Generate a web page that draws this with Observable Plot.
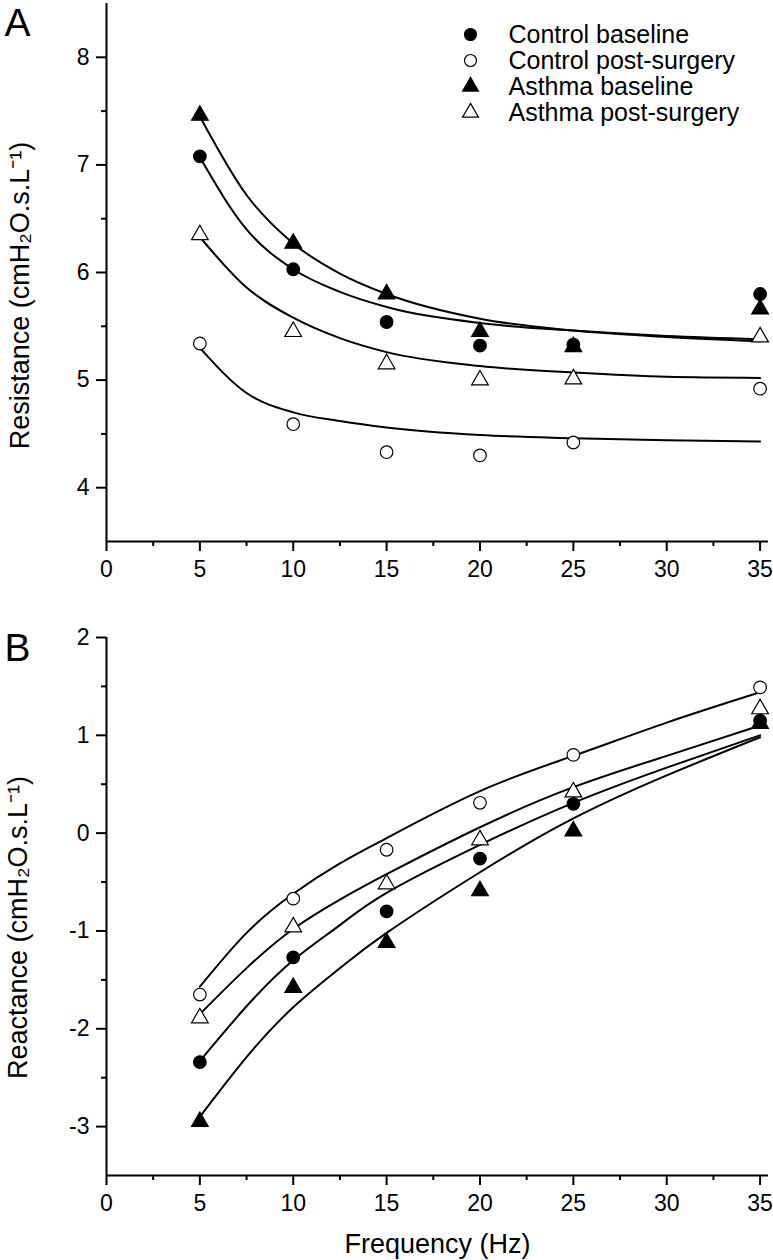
<!DOCTYPE html>
<html><head><meta charset="utf-8">
<script src="https://cdn.jsdelivr.net/npm/d3@7"></script>
<script src="https://cdn.jsdelivr.net/npm/@observablehq/plot@0.6"></script>
<style>
body{margin:0;background:#fff;}
#wrap{position:relative;width:773px;height:1260px;font-family:"Liberation Sans",Arial,sans-serif;background:#fff;}
#wrap svg{display:block;}
#legend{position:absolute;left:460px;top:0;}
</style></head><body><div id="wrap"><div id="legend"></div></div>
<script>
// ---------- data ----------
const seriesNames = ["Control baseline", "Control post-surgery", "Asthma baseline", "Asthma post-surgery"];
const freq = [5, 10, 15, 20, 25, 35];
const fitFreq = [5, 7.5, 10, 12.5, 15, 20, 25, 30, 35];

// Panel A: resistance
const resControlBase = [7.08, 6.03, 5.54, 5.32, 5.33, 5.80];
const resControlPost = [5.34, 4.59, 4.33, 4.30, 4.42, 4.92];
const resAsthmaBase  = [7.46, 6.27, 5.80, 5.45, 5.31, 5.66];
const resAsthmaPost  = [6.35, 5.45, 5.15, 5.00, 5.01, 5.40];
const resFitControlBase = [7.07, 6.40, 6.03, 5.82, 5.68, 5.53, 5.46, 5.41, 5.38];
const resFitControlPost = [5.30, 4.88, 4.70, 4.62, 4.56, 4.49, 4.46, 4.44, 4.43];
const resFitAsthmaBase  = [7.45, 6.72, 6.27, 5.99, 5.80, 5.57, 5.46, 5.40, 5.36];
const resFitAsthmaPost  = [6.33, 5.86, 5.58, 5.39, 5.26, 5.13, 5.07, 5.03, 5.02];

// Panel B: reactance
const reaControlBase = [-2.34, -1.27, -0.80, -0.26, 0.30, 1.15];
const reaControlPost = [-1.65, -0.67, -0.17, 0.31, 0.80, 1.49];
const reaAsthmaBase  = [-2.95, -1.58, -1.12, -0.59, 0.02, 1.12];
const reaAsthmaPost  = [-1.89, -0.96, -0.52, -0.07, 0.42, 1.27];
const reaFitControlBase = [-2.33, -1.77, -1.30, -0.94, -0.61, -0.12, 0.31, 0.67, 1.00];
const reaFitControlPost = [-1.57, -1.02, -0.62, -0.31, -0.05, 0.43, 0.79, 1.13, 1.44];
const reaFitAsthmaBase  = [-2.90, -2.29, -1.78, -1.38, -1.02, -0.40, 0.15, 0.59, 0.98];
const reaFitAsthmaPost  = [-1.85, -1.38, -0.98, -0.68, -0.42, 0.06, 0.47, 0.79, 1.10];

// ticks
const freqTicks = [0, 5, 10, 15, 20, 25, 30, 35];
const freqMinor = [2.5, 7.5, 12.5, 17.5, 22.5, 27.5, 32.5];
const resTicks = [4, 5, 6, 7, 8];
const resMinor = [4.5, 5.5, 6.5, 7.5];
const reaTicks = [-3, -2, -1, 0, 1, 2];
const reaMinor = [-2.5, -1.5, -0.5, 0.5, 1.5];

const resLabel = "Resistance (cmH\u2082O.s.L\u207B\u00B9)";
const reaLabel = "Reactance (cmH\u2082O.s.L\u207B\u00B9)";
const xLabel = "Frequency (Hz)";

// ---------- helpers ----------
const FONT = "Liberation Sans, Arial, sans-serif";
const styles = [
  {fill: "black", symbol: "circle", r: 6.3},
  {fill: "white", symbol: "circle", r: 6.3},
  {fill: "black", symbol: "triangle", r: 6.2},
  {fill: "white", symbol: "triangle", r: 6.2}
];
const rows = (xs, vs) => xs.map((f, i) => ({f, v: vs[i]}));

function panel({points, fits, curve, yDomain, yTicks, yMinor, height, marginTop, marginBottom, letter, letterDy, yLabel, yLabelDx, yLabelDy, withXLabel}) {
  const marks = [
    Plot.ruleX([0], {strokeWidth: 2}),
    Plot.ruleY([yDomain[0]], {strokeWidth: 2}),
    Plot.axisY(yTicks, {tickSize: 10, tickPadding: 7, fontSize: 23, strokeWidth: 2, label: null, tickFormat: d => String(d)}),
    Plot.axisY(yMinor, {tickSize: 5, strokeWidth: 2, label: null, tickFormat: () => ""}),
    Plot.axisX(freqTicks, {tickSize: 10, tickPadding: 9, fontSize: 23, strokeWidth: 2, label: null, tickFormat: d => String(d)}),
    Plot.axisX(freqMinor, {tickSize: 5, strokeWidth: 2, label: null, tickFormat: () => ""})
  ];
  // fitted curves
  [0, 1, 2, 3].forEach(i => {
    marks.push(Plot.line(rows(fitFreq, fits[i]), {x: "f", y: "v", curve, stroke: "black", strokeWidth: 2}));
  });
  // points (drawing order: asthma baseline, control baseline, control post, asthma post)
  [2, 0, 1, 3].forEach(i => {
    const s = styles[i];
    marks.push(Plot.dot(rows(freq, points[i]), {x: "f", y: "v", r: s.r, symbol: s.symbol, fill: s.fill, stroke: "black", strokeWidth: 1.2}));
  });
  marks.push(Plot.text([letter], {frameAnchor: "top-left", text: d => d, fontSize: 39, textAnchor: "start", lineAnchor: "top", dx: -102, dy: letterDy}));
  marks.push(Plot.text([yLabel], {frameAnchor: "left", text: d => d, fontSize: 27, rotate: -90, textAnchor: "middle", lineAnchor: "middle", dx: yLabelDx, dy: yLabelDy}));
  if (withXLabel) {
    marks.push(Plot.text([xLabel], {frameAnchor: "bottom", text: d => d, fontSize: 27, textAnchor: "middle", lineAnchor: "middle", dy: 69}));
  }
  return Plot.plot({
    width: 773,
    height,
    marginLeft: 106,
    marginRight: 5,
    marginTop,
    marginBottom,
    x: {domain: [0, 35.45], axis: null},
    y: {domain: yDomain, axis: null},
    style: {fontFamily: FONT, color: "black", background: "white", overflow: "visible"},
    marks
  });
}

const wrap = document.getElementById("wrap");

const plotA = panel({
  points: [resControlBase, resControlPost, resAsthmaBase, resAsthmaPost],
  fits: [resFitControlBase, resFitControlPost, resFitAsthmaBase, resFitAsthmaPost],
  curve: "monotone-x",
  yDomain: [3.5, 8.5], yTicks: resTicks, yMinor: resMinor,
  height: 600, marginTop: 3, marginBottom: 59,
  letter: "A", letterDy: 5,
  yLabel: resLabel, yLabelDx: -86, yLabelDy: 23, withXLabel: false
});
const plotB = panel({
  points: [reaControlBase, reaControlPost, reaAsthmaBase, reaAsthmaPost],
  fits: [reaFitControlBase, reaFitControlPost, reaFitAsthmaBase, reaFitAsthmaPost],
  curve: "natural",
  yDomain: [-3.5, 2], yTicks: reaTicks, yMinor: reaMinor,
  height: 660, marginTop: 37, marginBottom: 85,
  letter: "B", letterDy: -4,
  yLabel: reaLabel, yLabelDx: -88, yLabelDy: 21, withXLabel: true
});
wrap.insertBefore(plotA, wrap.firstChild);
wrap.insertBefore(plotB, document.getElementById("legend"));

// ---------- legend ----------
const legendMarks = [];
seriesNames.forEach((name, i) => {
  const s = styles[i];
  legendMarks.push(Plot.dot([name], {x: () => 0, y: d => d, r: s.r * 0.95, symbol: s.symbol, fill: s.fill, stroke: "black", strokeWidth: 1.2}));
});
legendMarks.push(Plot.text(seriesNames, {x: () => 1, y: d => d, text: d => d, textAnchor: "start", lineAnchor: "middle", fontSize: 25}));
const legend = Plot.plot({
  width: 313, height: 145, margin: 0,
  x: {domain: [0, 1], range: [10, 48], axis: null},
  y: {type: "point", domain: seriesNames, range: [21, 125], axis: null},
  style: {fontFamily: FONT, color: "black", background: "transparent", overflow: "visible"},
  marks: legendMarks
});
document.getElementById("legend").appendChild(legend);
</script>
</body></html>
